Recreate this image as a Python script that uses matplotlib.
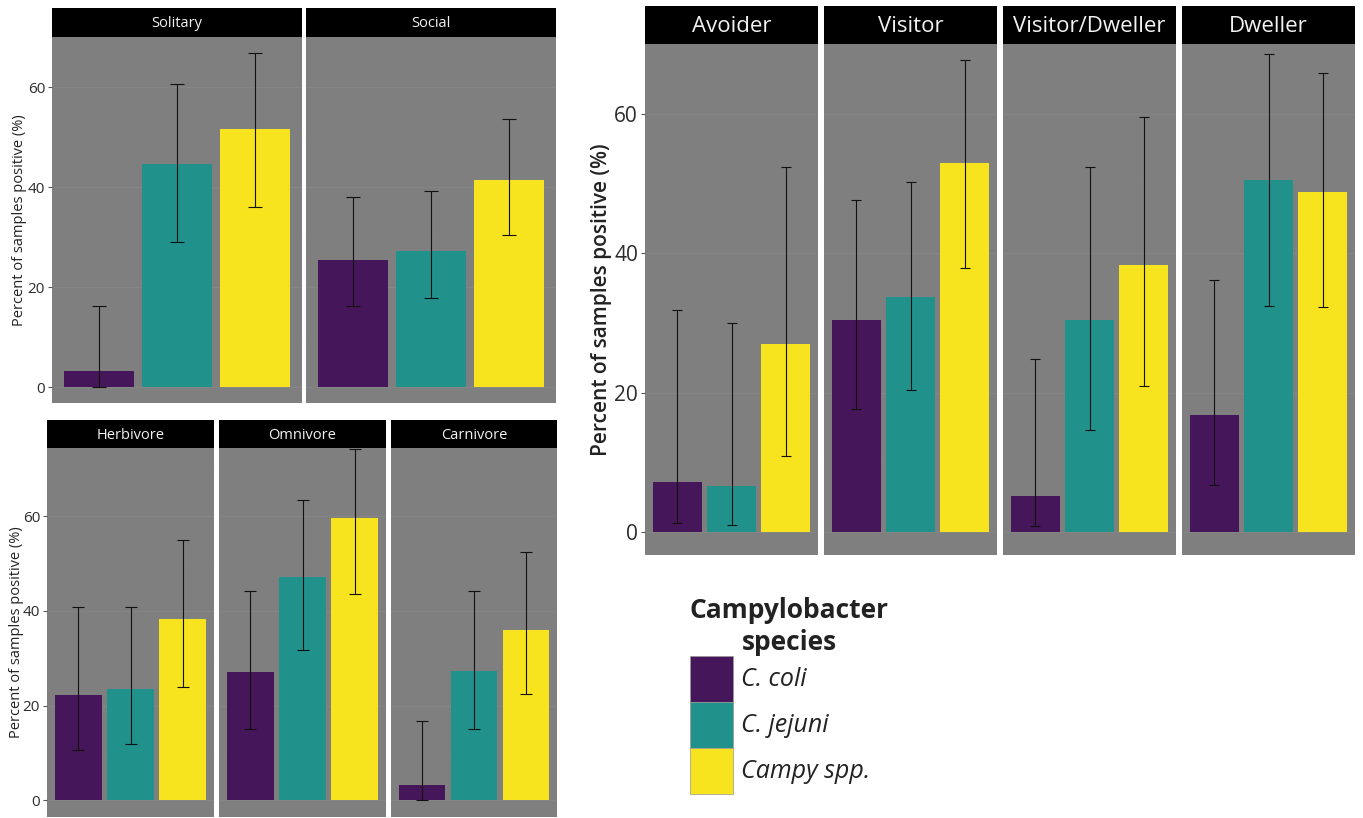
import matplotlib
matplotlib.use("Agg")
import matplotlib.pyplot as plt
from matplotlib.patches import Patch
import numpy as np

plt.rcParams['font.family'] = ['Open Sans', 'DejaVu Sans']

W, H = 1363, 818

species = ["C. coli", "C. jejuni", "Campy spp."]
colors = ["#46165a", "#21918c", "#f7e31e"]

# ---- Social behaviour group ----
social_cats = ["Solitary", "Social"]
social_mean = [[3.2, 25.5], [44.6, 27.2], [51.6, 41.5]]
social_lo = [[0.1, 16.3], [29.0, 17.8], [36.0, 30.5]]
social_hi = [[16.3, 38.0], [60.7, 39.2], [66.8, 53.6]]

# ---- Diet group ----
diet_cats = ["Herbivore", "Omnivore", "Carnivore"]
diet_mean = [[22.2, 27.1, 3.2], [23.6, 47.2, 27.3], [38.2, 59.7, 36.0]]
diet_lo = [[10.6, 15.1, 0.1], [12.0, 31.7, 15.0], [23.9, 43.5, 22.5]]
diet_hi = [[40.9, 44.2, 16.7], [40.9, 63.4, 44.2], [54.9, 74.2, 52.5]]

# ---- Urban behaviour group ----
urban_cats = ["Avoider", "Visitor", "Visitor/Dweller", "Dweller"]
urban_mean = [[7.1, 30.4, 5.2, 16.8], [6.6, 33.7, 30.4, 50.5], [27.0, 52.9, 38.3, 48.8]]
urban_lo = [[1.3, 17.6, 0.9, 6.8], [1.0, 20.3, 14.6, 32.4], [10.9, 37.8, 20.9, 32.3]]
urban_hi = [[31.8, 47.6, 24.8, 36.2], [30.0, 50.2, 52.3, 68.6], [52.3, 67.7, 59.6, 65.8]]

yticks = [0, 20, 40, 60]
ylabel = "Percent of samples positive (%)"

fig = plt.figure(figsize=(W / 100, H / 100), dpi=100)


def px_axes(x0, y0, x1, y1):
    return fig.add_axes([x0 / W, 1 - y1 / H, (x1 - x0) / W, (y1 - y0) / H])


def draw_group(cats, mean, lo, hi, panel_x, strip_top, strip_bot, panel_bot, ylim,
               strip_fs, tick_fs, label_fs, label_x, capsize, label_weight="normal"):
    for i, cat in enumerate(cats):
        x0, x1 = panel_x[i]
        ax = px_axes(x0, strip_bot, x1, panel_bot)
        sax = px_axes(x0, strip_top, x1, strip_bot)
        sax.set_facecolor("black")
        sax.set_xticks([]); sax.set_yticks([])
        for s in sax.spines.values():
            s.set_visible(False)
        sax.text(0.5, 0.45, cat, color="#f2f2f2", fontsize=strip_fs,
                 ha="center", va="center", transform=sax.transAxes)

        ax.set_facecolor("#7f7f7f")
        xs = np.arange(len(species))
        m = [mean[k][i] for k in range(len(species))]
        l = [lo[k][i] for k in range(len(species))]
        h = [hi[k][i] for k in range(len(species))]
        ax.bar(xs, m, width=0.9, color=colors, zorder=2)
        yerr = np.array([np.array(m) - np.array(l), np.array(h) - np.array(m)])
        ax.errorbar(xs, m, yerr=yerr, fmt="none", ecolor="#111111", elinewidth=0.8,
                    capsize=capsize, capthick=0.8, zorder=3)
        ax.set_xlim(-0.6, 2.6)
        ax.set_ylim(*ylim)
        ax.set_yticks(yticks)
        ax.set_yticks([10, 30, 50, 70], minor=True)
        ax.grid(True, which="major", axis="y", color="#868686", lw=0.7, zorder=0)
        ax.grid(True, which="minor", axis="y", color="#828282", lw=0.4, zorder=0)
        ax.set_axisbelow(True)
        ax.set_xticks([])
        for s in ax.spines.values():
            s.set_visible(False)
        ax.tick_params(axis="y", which="minor", length=0)
        if i == 0:
            ax.tick_params(axis="y", labelsize=tick_fs, length=3, color="#555555",
                           labelcolor="#2b2b2b", pad=2)
        else:
            ax.tick_params(axis="y", length=0, labelleft=False)
    yc = (strip_bot + panel_bot) / 2
    fig.text(label_x / W, 1 - yc / H, ylabel, rotation=90, ha="center", va="center",
             fontsize=label_fs, color="#222222", fontweight=label_weight)


draw_group(social_cats, social_mean, social_lo, social_hi,
           [(52, 302), (306, 556)], 8, 37, 403, (-3.1, 67.1),
           strip_fs=10.5, tick_fs=11, label_fs=10.5, label_x=20, capsize=5)

draw_group(diet_cats, diet_mean, diet_lo, diet_hi,
           [(47, 214), (219, 386), (391, 557)], 420, 448, 817, (-3.5, 74.4),
           strip_fs=10.5, tick_fs=11, label_fs=10.5, label_x=17, capsize=4)

draw_group(urban_cats, urban_mean, urban_lo, urban_hi,
           [(645, 818), (824, 997), (1003, 1176), (1182, 1355)], 6, 44, 555, (-3.3, 69.0),
           strip_fs=16, tick_fs=15, label_fs=15, label_x=602, capsize=3.5,
           label_weight="semibold")

# Legend
handles = [Patch(facecolor=c, edgecolor="#999999", linewidth=0.5) for c in colors]
leg = fig.legend(handles, species, loc="upper left",
                 bbox_to_anchor=(672 / W, 1 - 580 / H), frameon=False,
                 title="Campylobacter\nspecies",
                 prop={"size": 18, "style": "italic"},
                 title_fontproperties={"size": 19, "weight": "bold"},
                 handlelength=1.75, handleheight=2.45, handletextpad=0.3,
                 labelspacing=0.0, borderpad=0.2)
leg.get_title().set_multialignment("center")
leg.get_title().set_color("#222222")
leg._legend_box.align = "left"
for t in leg.get_texts():
    t.set_color("#222222")

fig.savefig("out.png", dpi=100, facecolor="white")
